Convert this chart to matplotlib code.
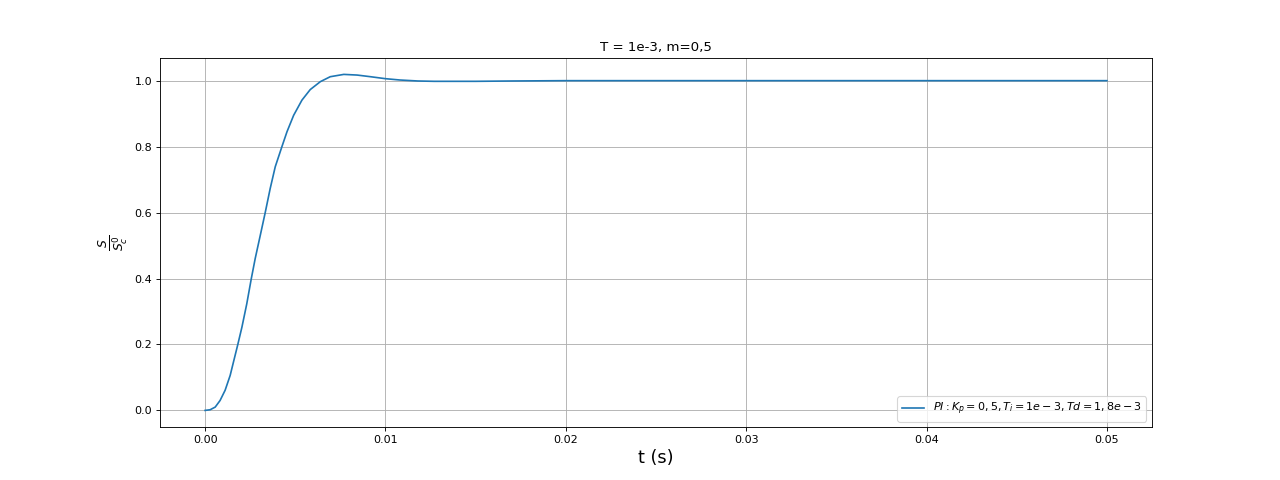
import matplotlib
matplotlib.use("Agg")
import matplotlib.pyplot as plt

# step response
t = [0.0, 0.00028, 0.00056, 0.00083, 0.00111, 0.00139, 0.00157, 0.00181,
     0.00204, 0.00231, 0.00256, 0.00278, 0.00306, 0.00333, 0.00361, 0.00389,
     0.00426, 0.00454, 0.00491, 0.00537, 0.00583, 0.00639, 0.00694, 0.00769,
     0.00843, 0.00917, 0.0100, 0.0108, 0.0118, 0.0127, 0.0136, 0.015, 0.017,
     0.02, 0.03, 0.04, 0.05]
s = [0.0, 0.002, 0.010, 0.030, 0.061, 0.106, 0.146, 0.199,
     0.252, 0.323, 0.399, 0.461, 0.531, 0.599, 0.673, 0.739,
     0.800, 0.845, 0.895, 0.941, 0.973, 0.997, 1.012, 1.019,
     1.017, 1.012, 1.006, 1.002, 0.999, 0.998, 0.998, 0.998, 0.999,
     1.0, 1.0, 1.0, 1.0]

fig, ax = plt.subplots(figsize=(16, 6), dpi=80)
ax.plot(t, s, label=r"$PI : K_p = 0,5 , T_i = 1e-3 , Td = 1,8e-3$")
ax.set_title("T = 1e-3, m=0,5")
ax.set_xlabel("t (s)", fontsize=16)
ax.set_ylabel(r"$\frac{S}{S_c^0}$", fontsize=16)
ax.grid(True)
ax.legend(loc="lower right")

fig.savefig("out.png", dpi=80)
